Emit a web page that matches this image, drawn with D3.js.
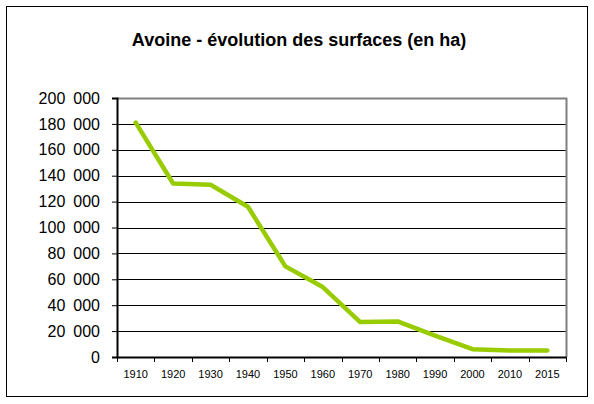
<!DOCTYPE html>
<html><head><meta charset="utf-8">
<script src="https://cdn.jsdelivr.net/npm/d3@7"></script>
<style>body{margin:0;background:#fff}svg{display:block}</style>
</head><body>
<script>
const years = ["1910","1920","1930","1940","1950","1960","1970","1980","1990","2000","2010","2015"];
const surfaces = [181000,134000,133000,116000,70000,54000,27000,27500,16500,6000,5000,5000];
const yTicks = [0,20000,40000,60000,80000,100000,120000,140000,160000,180000,200000];
const title = "Avoine - évolution des surfaces (en ha)";

const W = 594, H = 404;
const m = {l:117, r:566, t:98, b:357};
const svg = d3.select("body").append("svg").attr("width", W).attr("height", H);
svg.append("rect").attr("width", W).attr("height", H).attr("fill", "#fff");
svg.append("rect").attr("x", 6.5).attr("y", 6.5).attr("width", 581).attr("height", 390)
  .attr("fill", "none").attr("stroke", "#000").attr("stroke-width", 1);

svg.append("text").attr("x", 299).attr("y", 45.5).attr("text-anchor", "middle")
  .attr("font-family", "Liberation Sans, Arial, sans-serif").attr("font-weight", "bold")
  .attr("font-size", 18).text(title);

const x = d3.scaleBand().domain(years).range([m.l, m.r]).padding(0);
const y = d3.scaleLinear().domain([0, 200000]).range([m.b, m.t]);

// gridlines
svg.append("g").selectAll("line").data(yTicks.filter(d => d > 0 && d < 200000)).join("line")
  .attr("x1", m.l).attr("x2", m.r)
  .attr("y1", d => Math.round(y(d)) + 0.5).attr("y2", d => Math.round(y(d)) + 0.5)
  .attr("stroke", "#000").attr("stroke-width", 1);

// plot border (top and right gray)
svg.append("path")
  .attr("d", `M${m.l},${m.t+0.5}H${m.r+0.5}V${m.b}`)
  .attr("fill", "none").attr("stroke", "#808080").attr("stroke-width", 2);

const fmt = d => d3.format(",")(d).replace(/,/g, "\u2002");

const yAxis = svg.append("g").attr("transform", `translate(${m.l},0)`)
  .call(d3.axisLeft(y).tickValues(yTicks).tickFormat(fmt).tickSize(5).tickPadding(12));
yAxis.select(".domain").attr("stroke", "#000").attr("stroke-width", 2);
yAxis.selectAll(".tick line").attr("stroke", "#000");
yAxis.selectAll("text").attr("font-family", "Liberation Sans, Arial, sans-serif")
  .attr("font-size", 16).attr("fill", "#000");

const xAxis = svg.append("g").attr("transform", `translate(0,${m.b})`)
  .call(d3.axisBottom(x).tickSize(0).tickPadding(13));
xAxis.select(".domain").attr("stroke", "#000").attr("stroke-width", 2);
xAxis.selectAll("text").attr("font-family", "Liberation Sans, Arial, sans-serif")
  .attr("font-size", 11).attr("fill", "#000");
// category boundary ticks
const bounds = years.map(d => x(d)).concat([m.r]);
svg.append("g").selectAll("line").data(bounds).join("line")
  .attr("x1", d => Math.round(d) + 0.5).attr("x2", d => Math.round(d) + 0.5)
  .attr("y1", m.b).attr("y2", m.b + 5).attr("stroke", "#000");

const line = d3.line().x((d, i) => x(years[i]) + x.bandwidth() / 2).y(d => y(d));
svg.append("path").datum(surfaces).attr("d", line)
  .attr("fill", "none").attr("stroke", "#99CC00").attr("stroke-width", 4.5)
  .attr("stroke-linejoin", "round").attr("stroke-linecap", "round");
</script>
</body></html>
